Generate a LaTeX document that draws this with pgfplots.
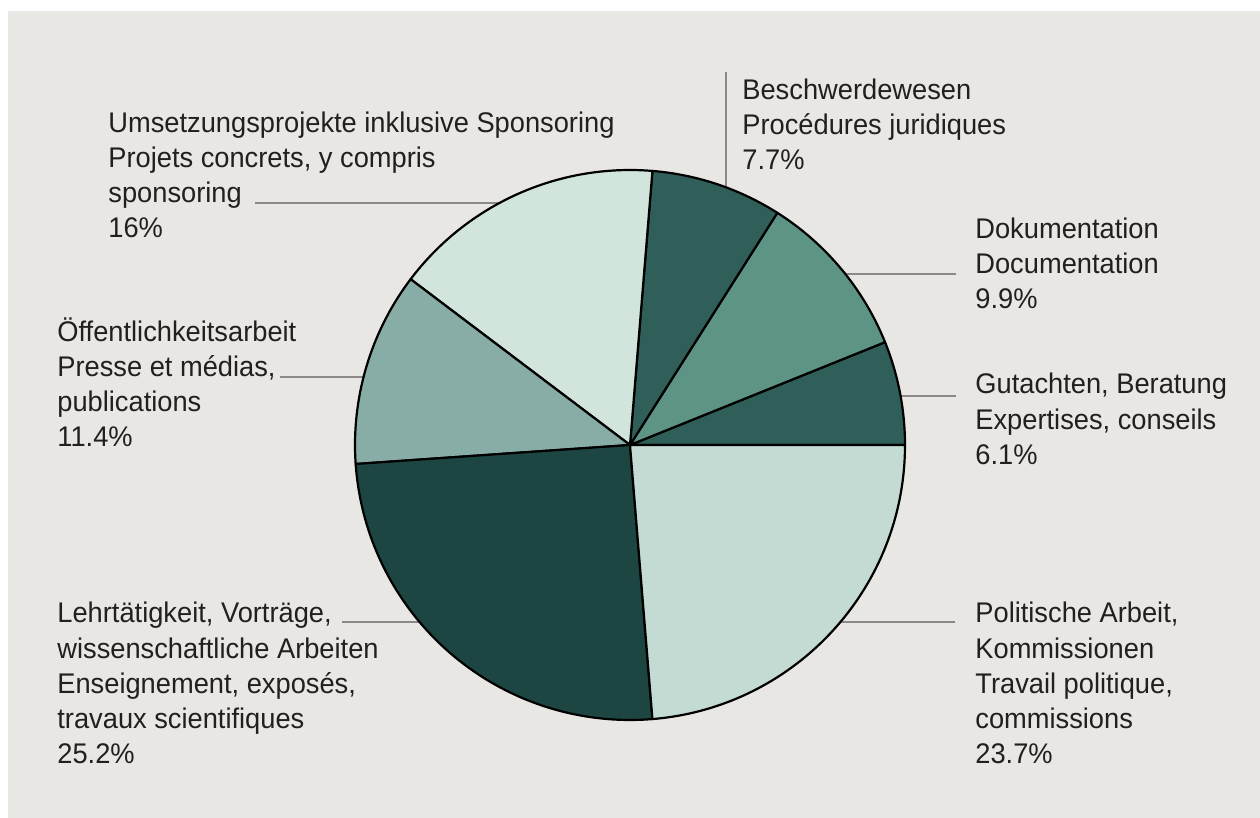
\documentclass[border=0pt]{standalone}
\usepackage{pgfplots}
\pgfplotsset{compat=1.18}
\usepackage{fontspec}
\setmainfont{Liberation Sans}[FakeStretch=0.96]
\definecolor{bg}{HTML}{E8E7E3}
\definecolor{txt}{HTML}{231F20}
\definecolor{leader}{HTML}{8C8888}
\definecolor{cUms}{HTML}{D2E5DC}
\definecolor{cPol}{HTML}{C3DBD2}
\definecolor{cDok}{HTML}{5E9486}
\definecolor{cDark}{HTML}{2F5F58}
\definecolor{cOef}{HTML}{88ACA6}
\definecolor{cLehr}{HTML}{1D4642}
\newcommand\lf{\fontsize{14.2pt}{17.5pt}\selectfont}
% shares in percent, counterclockwise from 3 o'clock
\pgfmathsetmacro\aA{0}
\pgfmathsetmacro\aB{\aA+6.1*3.6}   % Gutachten
\pgfmathsetmacro\aC{\aB+9.9*3.6}   % Dokumentation
\pgfmathsetmacro\aD{\aC+7.7*3.6}   % Beschwerdewesen
\pgfmathsetmacro\aE{\aD+16*3.6}    % Umsetzungsprojekte
\pgfmathsetmacro\aF{\aE+11.4*3.6}  % Oeffentlichkeitsarbeit
\pgfmathsetmacro\aG{\aF+25.2*3.6}  % Lehrtaetigkeit
\pgfmathsetmacro\aH{\aG+23.7*3.6}  % Politische Arbeit
\newcommand\slice[3]{\fill[#3,draw=black,line width=1.1pt,line join=round] (axis cs:630,445) -- ++(#1:137.5pt) arc[start angle=#1,end angle=#2,radius=137.5pt] -- cycle;}
\newcommand\labline[3]{\node[anchor=base west,inner sep=0pt,font=\lf,text=txt] at (axis cs:#1,#2) {#3};}
\begin{document}
\begin{tikzpicture}
\begin{axis}[scale only axis, width=630pt, height=409pt,
  xmin=0, xmax=1260, ymin=0, ymax=818, y dir=reverse,
  hide axis, clip=false]
\fill[white] (axis cs:0,0) rectangle (axis cs:1260,818);
\fill[bg] (axis cs:8,11) rectangle (axis cs:1260,818);
% leader lines
\draw[leader,line width=0.8pt] (axis cs:726,72) -- (axis cs:726,190);
\draw[leader,line width=0.8pt] (axis cs:840,274) -- (axis cs:956,274);
\draw[leader,line width=0.8pt] (axis cs:900,396) -- (axis cs:956,396);
\draw[leader,line width=0.8pt] (axis cs:835,622) -- (axis cs:955,622);
\draw[leader,line width=0.8pt] (axis cs:342,622) -- (axis cs:425,622);
\draw[leader,line width=0.8pt] (axis cs:280,377) -- (axis cs:368,377);
\draw[leader,line width=0.8pt] (axis cs:255,203) -- (axis cs:505,203);
% pie
\slice{\aA}{\aB}{cDark}
\slice{\aB}{\aC}{cDok}
\slice{\aC}{\aD}{cDark}
\slice{\aD}{\aE}{cUms}
\slice{\aE}{\aF}{cOef}
\slice{\aF}{\aG}{cLehr}
\slice{\aG}{\aH}{cPol}
% labels
\labline{108}{133}{Umsetzungsprojekte inklusive Sponsoring}
\labline{108}{168}{Projets concrets, y compris}
\labline{108}{203}{sponsoring}
\labline{108}{238}{16\%}
\labline{742}{100}{Beschwerdewesen}
\labline{742}{135}{Procédures juridiques}
\labline{742}{170}{7.7\%}
\labline{975}{239}{Dokumentation}
\labline{975}{274}{Documentation}
\labline{975}{309}{9.9\%}
\labline{975}{394}{Gutachten, Beratung}
\labline{975}{430}{Expertises, conseils}
\labline{975}{465}{6.1\%}
\labline{975}{623}{Politische Arbeit,}
\labline{975}{658}{Kommissionen}
\labline{975}{693}{Travail politique,}
\labline{975}{728}{commissions}
\labline{975}{763}{23.7\%}
\labline{57}{342}{Öffentlichkeitsarbeit}
\labline{57}{377}{Presse et médias,}
\labline{57}{412}{publications}
\labline{57}{447}{11.4\%}
\labline{57}{623}{Lehrtätigkeit, Vorträge,}
\labline{57}{658}{wissenschaftliche Arbeiten}
\labline{57}{693}{Enseignement, exposés,}
\labline{57}{728}{travaux scientifiques}
\labline{57}{763}{25.2\%}
\end{axis}
\end{tikzpicture}
\end{document}
